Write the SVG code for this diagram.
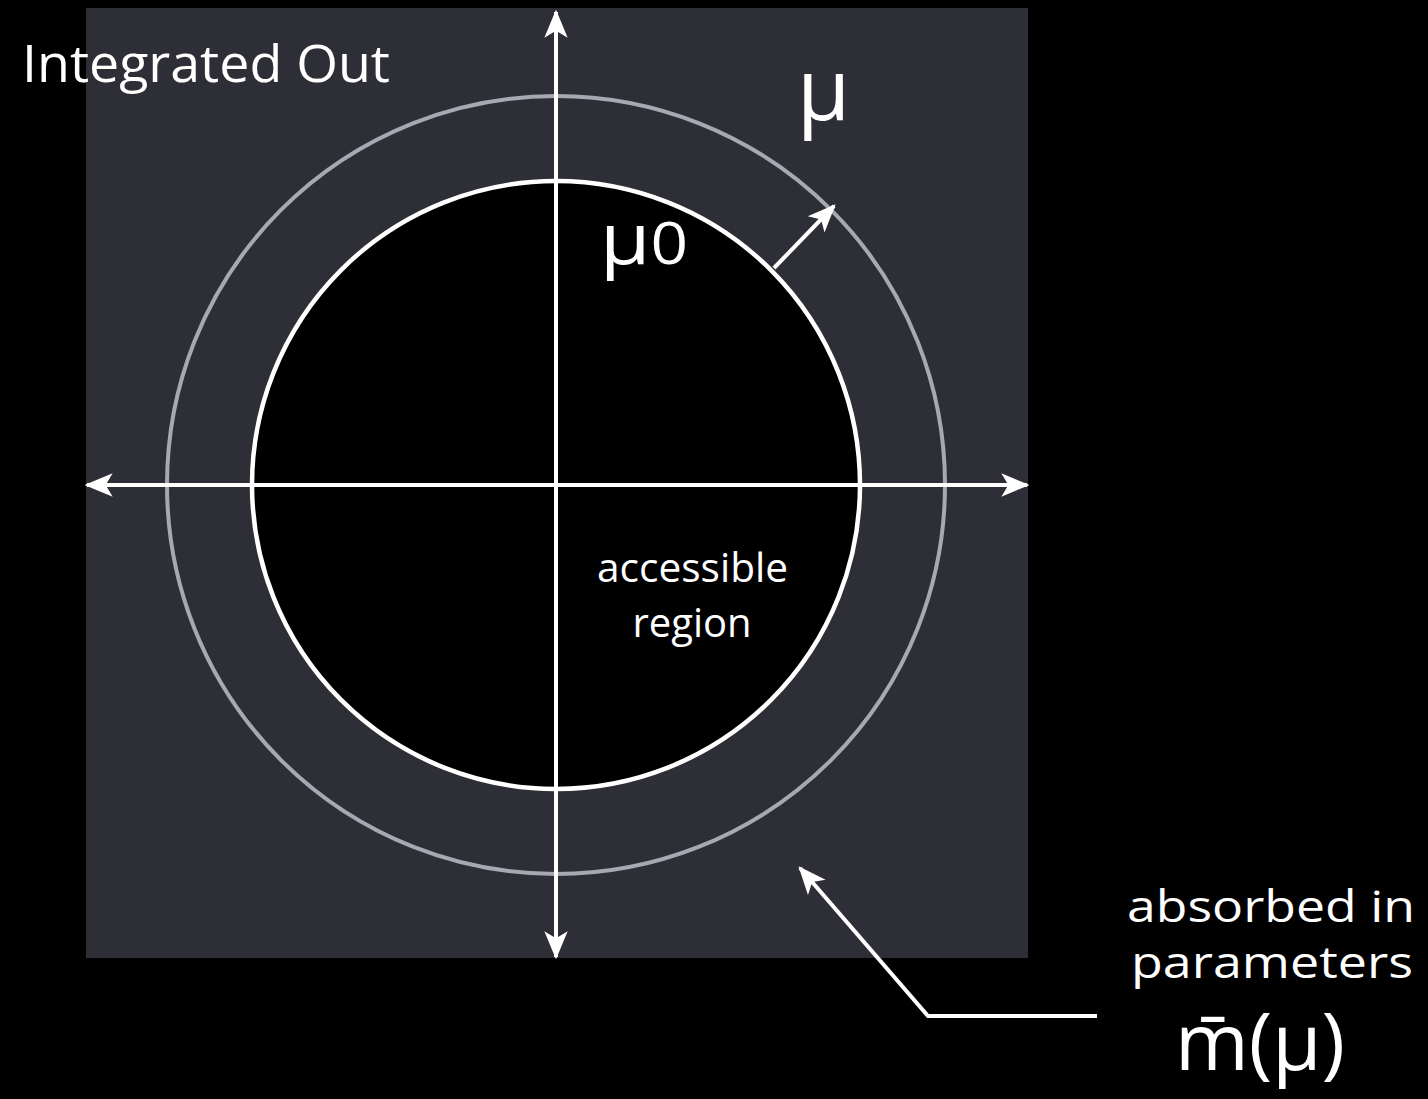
<svg xmlns="http://www.w3.org/2000/svg" width="1428" height="1099" viewBox="0 0 1428 1099">
<style>
.t{font-family:"Open Sans",Lato,"Liberation Sans",sans-serif;fill:#ffffff}
.ax{stroke:#ffffff;stroke-width:4;fill:none}
</style>
<defs>
<marker id="ahb" viewBox="0 0 12 10" refX="11" refY="5" markerWidth="28" markerHeight="26" markerUnits="userSpaceOnUse" orient="auto">
<path d="M0,0 L12,5 L0,10 L3,5 Z" fill="#ffffff"/>
</marker>
</defs>
<rect width="1428" height="1099" fill="#000000"/>
<g id="field"><rect x="86" y="8" width="942" height="950" fill="#2e2e36"/></g>
<g id="outer-circle"><circle cx="556" cy="485" r="389" fill="none" stroke="#a8a8b2" stroke-width="4"/></g>
<g id="inner-circle"><circle cx="556" cy="485" r="304" fill="#000000" stroke="#ffffff" stroke-width="4.5"/></g>
<g id="connectors">
<line class="ax" x1="556" y1="485" x2="556" y2="12" marker-end="url(#ahb)"/>
<line class="ax" x1="556" y1="485" x2="556" y2="957" marker-end="url(#ahb)"/>
<line class="ax" x1="556" y1="485" x2="87" y2="485" marker-end="url(#ahb)"/>
<line class="ax" x1="556" y1="485" x2="1027" y2="485" marker-end="url(#ahb)"/>
<line class="ax" x1="774" y1="268" x2="834" y2="206" marker-end="url(#ahb)"/>
<polyline class="ax" points="1097,1016 928,1016 800,868" marker-end="url(#ahb)"/>
</g>
<g id="labels">
<text class="t" x="22" y="82" font-size="51" textLength="368" lengthAdjust="spacingAndGlyphs">Integrated Out</text>
<text class="t" x="797" y="120" font-size="86">μ</text>
<text class="t" x="600" y="264" font-size="72" textLength="88" lengthAdjust="spacingAndGlyphs">μ<tspan font-size="58">0</tspan></text>
<text class="t" x="597" y="582" font-size="40" textLength="191" lengthAdjust="spacingAndGlyphs">accessible</text>
<text class="t" x="692" y="637" font-size="40" text-anchor="middle">region</text>
<text class="t" x="1127" y="922" font-size="44" textLength="288" lengthAdjust="spacingAndGlyphs">absorbed in</text>
<text class="t" x="1131" y="978" font-size="44" textLength="282" lengthAdjust="spacingAndGlyphs">parameters</text>
<text class="t" x="1175" y="1070" font-size="78" textLength="170" lengthAdjust="spacingAndGlyphs">m̄(μ)</text>
</g>
</svg>
